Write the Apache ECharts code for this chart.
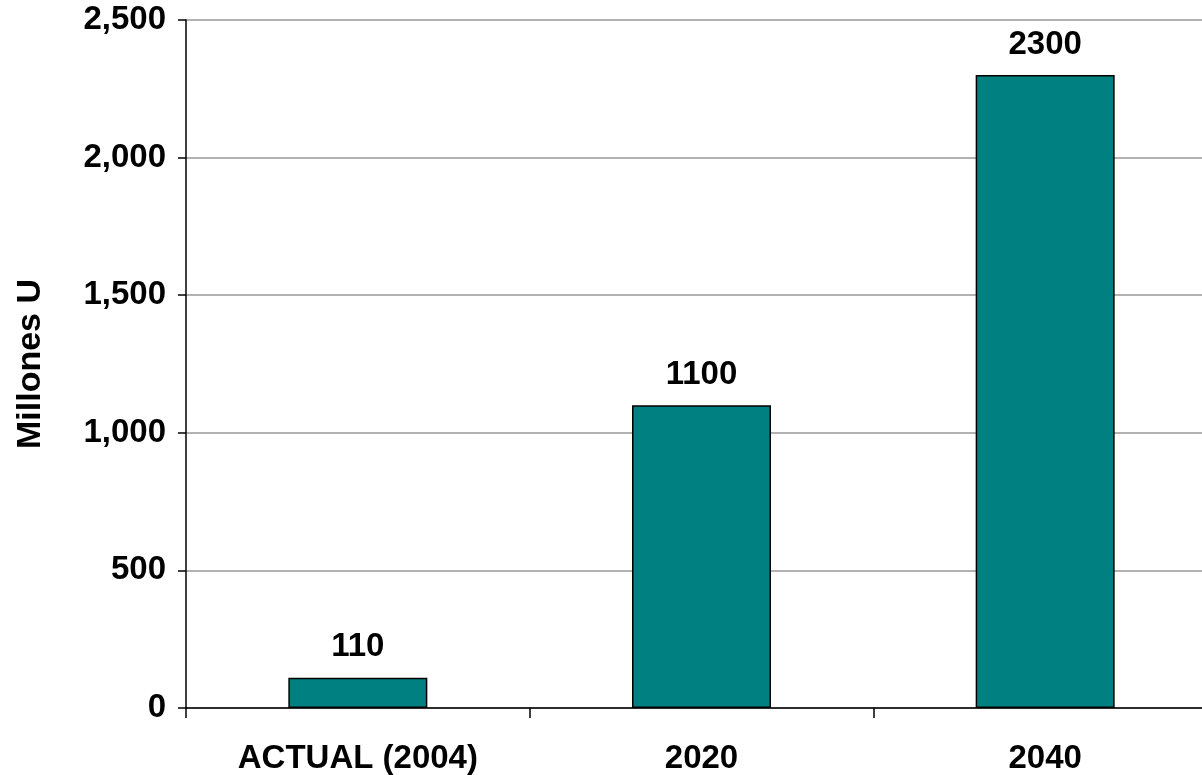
<!DOCTYPE html>
<html>
<head>
<meta charset="utf-8">
<script src="https://cdn.jsdelivr.net/npm/echarts@6/dist/echarts.min.js"></script>
<style>
html,body{margin:0;padding:0;background:#fff;overflow:hidden;width:1202px;height:775px;}
#chart{width:1217px;height:775px;}
</style>
</head>
<body>
<div id="chart"></div>
<script>
var categories = ['ACTUAL (2004)', '2020', '2040'];
var values = [110, 1100, 2300];
var yAxisName = 'Millones U';

var chart = echarts.init(document.getElementById('chart'));
var font = '"Liberation Sans", Arial, sans-serif';
chart.setOption({
  animation: false,
  backgroundColor: '#ffffff',
  grid: { left: 186, top: 20, right: 0, bottom: 67, containLabel: false },
  xAxis: {
    type: 'category',
    data: categories,
    axisLine: { lineStyle: { color: '#000', width: 1.5 } },
    axisTick: { show: true, length: 10, lineStyle: { color: '#000', width: 1.5 } },
    axisLabel: { color: '#000', fontFamily: font, fontWeight: 'bold', fontSize: 33, margin: 34 }
  },
  yAxis: {
    type: 'value',
    min: 0, max: 2500, interval: 500,
    name: yAxisName,
    nameLocation: 'middle',
    nameGap: 138,
    nameRotate: 90,
    nameTextStyle: { color: '#000', fontFamily: font, fontWeight: 'bold', fontSize: 34 },
    axisLine: { show: true, lineStyle: { color: '#000', width: 1.5 } },
    axisTick: { show: true, length: 8, lineStyle: { color: '#000', width: 1.5 } },
    axisLabel: {
      color: '#000', fontFamily: font, fontWeight: 'bold', fontSize: 33, margin: 20,
      formatter: function (v) { return v.toLocaleString('en-US'); }
    },
    splitLine: { show: true, lineStyle: { color: '#999', width: 1.5 } }
  },
  series: [{
    type: 'bar',
    data: values,
    barWidth: 139,
    itemStyle: { color: '#008080', borderColor: '#000', borderWidth: 1.5 },
    label: {
      show: true, position: 'top', distance: 14,
      color: '#000', fontFamily: font, fontWeight: 'bold', fontSize: 33
    }
  }]
});
</script>
</body>
</html>
